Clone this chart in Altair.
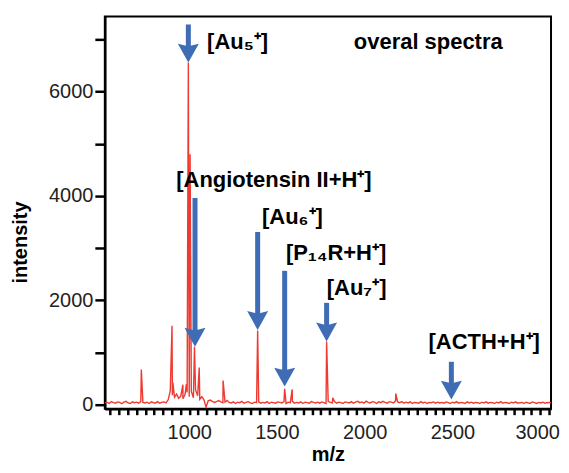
import altair as alt
import pandas as pd

# ---- spectrum data ----
noise_intensity = [
    30, 45, 20, 55, 35, 25, 50, 40, 15, 45, 60, 30, 20, 50, 35, 45, 25, 55, 40, 30,
    45, 20, 50, 35, 30, 55, 25, 40, 50, 30, 90, 260, 180, 140, 200, 120, 160, 110, 190, 230,
    150, 250, 130, 280, 170, 100, 150, 90, -50, 70, 85, 60, 40, 55, 75, 50, 35, 45, 80, 40,
    30, 50, 20, 45, 35, 60, 25, 40, 55, 30, 20, 45, 35, 50, 25, 40, 30, 55, 20, 45,
    35, 25, 50, 40, 30, 55, 20, 45, 35, 60, 25, 40, 30, 50, 20, 45, 35, 25, 55, 40,
    30, 45, 25, 50, 35, 20, 60, 40, 30, 55, 25, 45, 35, 20, 50, 40, 30, 55, 25, 45,
    60, 35, 50, 25, 65, 40, 30, 55, 45, 20, 50, 35, 60, 40, 25, 55, 45, 30, 70, 50,
    35, 55, 25, 45, 30, 50, 20, 40, 35, 25, 55, 30, 45, 20, 40, 35, 50, 25, 45, 30,
    40, 25, 50, 35, 20, 45, 30, 55, 25, 40, 35, 20, 50, 30, 45, 25, 40, 35, 20, 45,
    30, 50, 25, 40, 35, 20, 45, 30, 55, 25, 40, 35, 20, 45, 30, 50, 25, 35, 40, 20,
    45, 30, 25, 50, 35, 20, 40, 30, 45, 25, 35, 40, 30,
]
noise_mz = list(range(520, 3065, 12))

peak_mz = [727, 902, 907, 964, 984, 995, 1005, 1030, 1057, 1193, 1390, 1544, 1587, 1783, 1818, 2177]
peak_intensity = [670, 1510, 420, 380, 390, 6560, 4800, 1110, 710, 460, 1420, 300, 290, 1210, 130, 210]

# ---- arrows ----
arrow_mz = [995, 1033, 1390, 1544, 1783, 2494]
arrow_top = [7290, 3960, 3310, 2565, 1950, 820]
arrow_tip = [6560, 1110, 1430, 345, 1210, 95]

# ---- labels ----
label_text = ["[Au₅⁺]", "overal spectra", "[Angiotensin II+H⁺]", "[Au₆⁺]",
              "[P₁₄R+H⁺]", "[Au₇⁺]", "[ACTH+H⁺]"]
label_mz = [1102, 1938, 926, 1415, 1551, 1784, 2364]
label_y = [6947, 6947, 4306, 3598, 2909, 2239, 1206]

x_ticks = list(range(550, 3051, 50))
y_ticks = [0, 1000, 2000, 3000, 4000, 5000, 6000, 7000]

RED = "#ee3a30"
BLUE = "#3f6db5"
FONT = "Liberation Sans"

spec = pd.DataFrame({"mz": noise_mz + peak_mz,
                     "intensity": noise_intensity + peak_intensity}).sort_values("mz")
arrows = pd.DataFrame({"mz": arrow_mz, "top": arrow_top, "tip": arrow_tip})
arrows["shaft_end"] = arrows["tip"] + 200
labels = pd.DataFrame({"mz": label_mz, "y": label_y, "t": label_text})

xscale = alt.Scale(domain=[519, 3062], nice=False, zero=False)
yscale = alt.Scale(domain=[-80, 7445], nice=False, zero=False)

xaxis = alt.Axis(values=x_ticks, tickCount=len(x_ticks) + 5, format="d",
                 labelExpr="datum.value % 500 === 0 ? datum.label : ''",
                 labelOffset={"condition": {"test": "datum.value >= 3000", "value": -3}, "value": 0},
                 labelOverlap=False, tickSize=6, tickWidth=2.5, tickColor="black",
                 domainColor="black", domainWidth=2.5, labelFontSize=20,
                 labelColor="#222", labelFont=FONT, labelPadding=8,
                 title="m/z", titleFont=FONT, titleFontSize=20,
                 titleFontWeight="bold", titleColor="black", titlePadding=2, grid=False)
yaxis = alt.Axis(values=y_ticks, tickCount=len(y_ticks) + 2, format="d",
                 labelExpr="datum.value % 2000 === 0 ? datum.label : ''",
                 labelOverlap=False, tickSize=10, tickWidth=2.5, tickColor="black",
                 domainColor="black", domainWidth=2.5, labelFontSize=20,
                 labelColor="#222", labelFont=FONT, labelPadding=2,
                 title="intensity", titleFont=FONT, titleFontSize=20,
                 titleFontWeight="bold", titleColor="black",
                 titleX=-84, titleY=226, titleBaseline="middle", grid=False)

line = alt.Chart(spec).mark_line(color=RED, strokeWidth=1.4, clip=True).encode(
    x=alt.X("mz:Q", scale=xscale, axis=xaxis),
    y=alt.Y("intensity:Q", scale=yscale, axis=yaxis),
)

shaft = alt.Chart(arrows).mark_rule(color=BLUE, strokeWidth=5).encode(
    x=alt.X("mz:Q", scale=xscale), y=alt.Y("top:Q", scale=yscale), y2="shaft_end:Q")

head = alt.Chart(arrows).mark_point(shape="M-1,-1.8L0,-1.55L1,-1.8L0,0Z", size=441,
                                    filled=True, color=BLUE, opacity=1, strokeWidth=0).encode(
    x=alt.X("mz:Q", scale=xscale), y=alt.Y("tip:Q", scale=yscale))

text = alt.Chart(labels).mark_text(align="left", baseline="middle", font=FONT,
                                   fontSize=22, fontWeight="bold", color="black").encode(
    x=alt.X("mz:Q", scale=xscale), y=alt.Y("y:Q", scale=yscale), text="t:N")

chart = alt.layer(line, shaft, head, text).properties(
    width=447, height=393,
    autosize=alt.AutoSizeParams(type="none"),
    padding={"left": 97, "top": 8, "right": 10, "bottom": 56},
).configure_view(stroke="black", strokeWidth=2)

chart.save("out.html", embed_options={"renderer": "svg", "actions": False})
